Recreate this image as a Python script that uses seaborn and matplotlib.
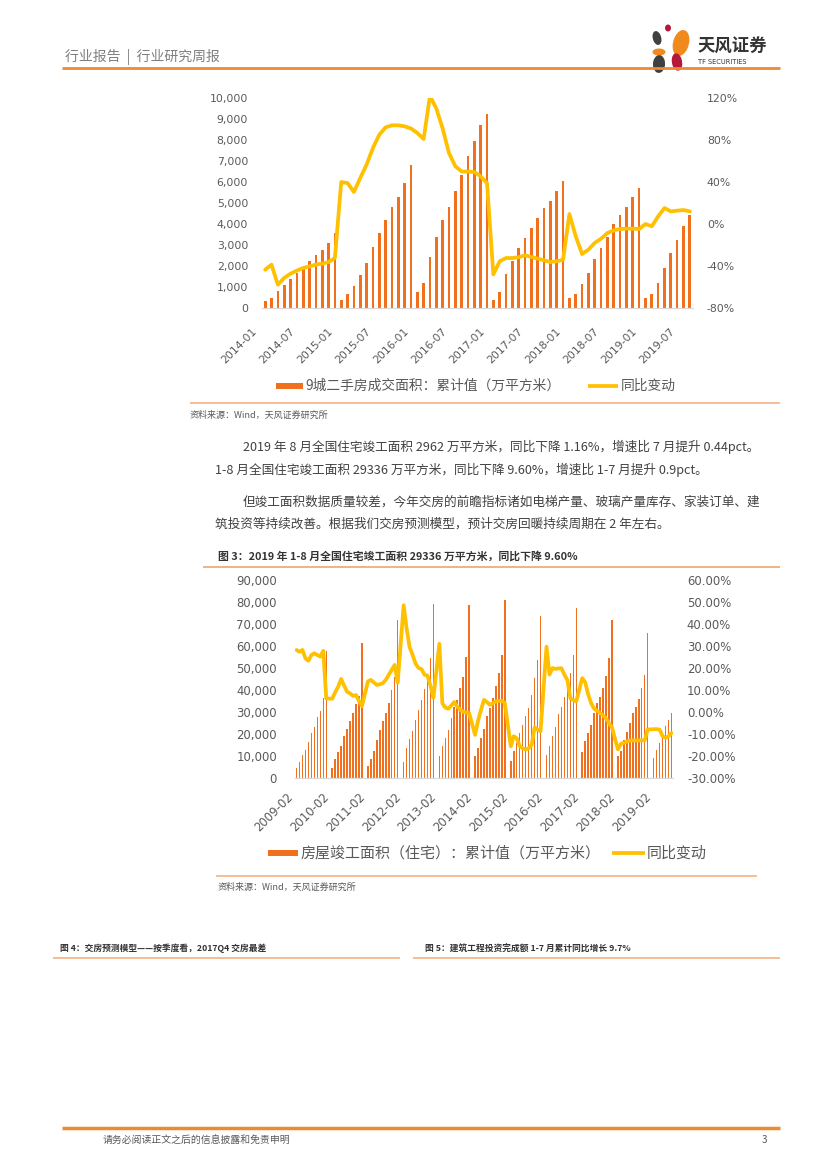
import matplotlib
matplotlib.use('Agg')
import matplotlib.pyplot as plt
import matplotlib.transforms as mtransforms
from matplotlib.lines import Line2D
from matplotlib.patches import Rectangle, Ellipse
from matplotlib.ticker import FuncFormatter
import numpy as np
import seaborn as sns

W, H = 827, 1169

# ---- chart 1: 9 city second-hand housing deals, 2014-01 .. 2019-08
years1 = [2014, 2015, 2016, 2017, 2018, 2019]
area1 = [320, 500, 830, 1110, 1400, 1650, 1940, 2220, 2510, 2780, 3100, 3590,
         400, 670, 1030, 1590, 2160, 2890, 3590, 4210, 4810, 5300, 5970, 6790,
         750, 1210, 2410, 3370, 4170, 4830, 5560, 6350, 7220, 7970, 8730, 9240,
         400, 760, 1630, 2220, 2870, 3350, 3830, 4300, 4780, 5110, 5590, 6050,
         460, 680, 1160, 1670, 2350, 2870, 3400, 4000, 4440, 4830, 5270, 5730,
         460, 680, 1210, 1920, 2620, 3250, 3920, 4440]
yoy1 = [-43.5, -38.7, -57.8, -51.4, -47.3, -44.4, -41.9, -40.3, -38.7, -37.8, -36.2, -32.4,
        40, 39, 30.5, 43.8, 56.5, 72.4, 85, 92, 94, 94, 93, 91,
        86.7, 81, 122, 110, 91, 67.6, 55, 50, 50, 49.5, 45.4, 39,
        -48, -35.5, -32.4, -32.4, -31.7, -29.8, -31.4, -33, -34.6, -36.2, -35.5, -34,
        9.5, -11.7, -28.6, -24.4, -18, -14, -8.6, -6, -4.8, -4.4, -4.4, -4.8,
        0, -2.2, 7.3, 15.2, 12, 12.7, 13.3, 12]
months1 = ['%d-%02d' % (y, m) for y in years1 for m in range(1, 13)][:len(area1)]

# ---- chart 2: residential completions (Jan merged into Feb), 2009-02 .. 2019-08
years2 = list(range(2009, 2020))
area2 = [4400, 7400, 10450, 12700, 16500, 20300, 23300, 27600, 30600, 36200, 57700,
         4500, 8600, 11600, 14400, 19200, 22200, 25700, 29500, 33700, 37500, 61200,
         5300, 8600, 12100, 17400, 21900, 25700, 29500, 34000, 40100, 46000, 71700,
         7400, 13500, 17600, 21400, 26400, 30900, 35400, 40300, 44500, 54400, 79000,
         9800, 14400, 18150, 21900, 27200, 32500, 35500, 40800, 45800, 54900, 78700,
         9800, 13600, 18200, 22500, 28000, 32000, 36500, 42000, 47500, 56000, 80900,
         7600, 12100, 15900, 20400, 24200, 28000, 31800, 37800, 45400, 53700, 73800,
         10600, 14400, 18900, 23400, 29200, 32500, 37000, 40800, 47600, 56000, 77200,
         11600, 16600, 20400, 24200, 29500, 34000, 37000, 40800, 46400, 54400, 71800,
         9800, 12100, 17400, 20900, 25000, 29500, 32500, 36000, 40800, 46900, 66000,
         9100, 12900, 15900, 21000, 23500, 26300, 29336]
yoy2 = [28.2, 27.4, 28.2, 24.4, 23.3, 25.9, 26.7, 25.9, 25.2, 27.8, 6.2,
        6.0, 9.0, 11.5, 15.0, 12.0, 9.2, 8.5, 7.3, 7.7, 5.0, 2.7,
        13.9, 14.6, 13.4, 12.3, 12.6, 13.1, 14.6, 16.9, 19.2, 21.4, 13.3,
        48.5, 38, 29.5, 26, 22, 20, 19.5, 17, 16.5, 12, 6.5,
        31, 4, 2, 1.5, 3, 4.5, 2.5, 1, 0.2, -0.3, -0.4,
        -10.4, -4, 1, 5.5, 4.5, 3.3, 4, 4.8, 5, 5.1, 4,
        -15.6, -11, -12, -15.5, -16.5, -17, -16.5, -15, -7, -8, -8.8,
        29.7, 17, 20, 19.6, 19.8, 19.9, 17, 14.6, 6.3, 5.5, 4.8,
        15.4, 13.5, 8, 4, 1.5, 0.5, -0.5, -1.5, -3, -5, -7,
        -17, -14.5, -14, -13.4, -13, -12.9, -12.9, -12.9, -12.9, -12.9, -8,
        -7.8, -7.8, -8, -11, -11.8, -11, -9.6]
slots2 = ['%d-%02d' % (y, m) for y in years2 for m in range(1, 13)][1:128]
months2 = [s for s in slots2 if not s.endswith('-01')]

BAR = '#F0701E'
LINE = '#FFC000'
GREY = '#595959'
ORANGE = '#EE8A2E'
LIGHT = '#F4B183'

sns.set_theme(style='white')
plt.rcParams['font.family'] = ['Noto Sans CJK SC', 'DejaVu Sans']

fig = plt.figure(figsize=(W / 100, H / 100), dpi=100)


def px_axes(l, t, r, b):
    return fig.add_axes([l / W, 1 - b / H, (r - l) / W, (b - t) / H])


def ftext(x, y, s, **kw):
    kw.setdefault('va', 'center')
    fig.text(x / W, 1 - y / H, s, **kw)


def hline(x0, x1, y, color, lw):
    fig.add_artist(Line2D([x0 / W, x1 / W], [1 - y / H] * 2, transform=fig.transFigure,
                          color=color, lw=lw, solid_capstyle='butt'))


def style_axes(ax, axr, fs, lpad, rpad):
    for a in (ax, axr):
        for s in a.spines.values():
            s.set_visible(False)
        a.grid(False)
        a.set_xlabel('')
        a.set_ylabel('')
    ax.spines['bottom'].set_visible(True)
    ax.spines['bottom'].set_color('#D9D9D9')
    ax.spines['bottom'].set_linewidth(0.9)
    ax.tick_params(axis='y', length=0, pad=lpad, labelsize=fs, labelcolor=GREY)
    axr.tick_params(axis='y', length=0, pad=rpad, labelsize=fs, labelcolor=GREY)
    ax.tick_params(axis='x', length=0, pad=0, labelsize=fs, labelcolor=GREY)
    for lab in ax.get_yticklabels() + axr.get_yticklabels() + ax.get_xticklabels():
        lab.set_family('DejaVu Sans')


def shift_xlabels(ax, dx, dy):
    off = mtransforms.ScaledTranslation(dx / 100, -dy / 100, fig.dpi_scale_trans)
    for lab in ax.get_xticklabels():
        lab.set_rotation(45)
        lab.set_ha('right')
        lab.set_va('center')
        lab.set_rotation_mode('anchor')
        lab.set_transform(lab.get_transform() + off)


# ---------------- header / logo ----------------
ftext(65, 57, '行业报告  |  行业研究周报', fontsize=10, color='#7F7F7F')
hline(62, 780, 68, ORANGE, 2.0)
for (cx, cy, w, h, ang, col) in [(668, 28, 6, 7, 0, '#B5183A'),
                                 (657, 38, 8, 15, 35, '#404040'),
                                 (681, 43, 15, 28, -35, '#F08A1C'),
                                 (659, 52, 13, 7, 0, '#F08A1C'),
                                 (677, 62, 10, 18, 25, '#B5183A'),
                                 (659, 64, 12, 18, -20, '#404040')]:
    fig.add_artist(Ellipse((cx / W, 1 - cy / H), w / W, h / H, angle=ang,
                           transform=fig.transFigure, color=col, lw=0))
ftext(697, 47, '天风证券', fontsize=12.5, color='#333333', fontweight='bold')
ftext(698, 62, 'TF SECURITIES', fontsize=4.8, color='#333333', family='DejaVu Sans')

# ---------------- chart 1 ----------------
ax1 = px_axes(262, 98, 693, 308)
sns.barplot(x=months1, y=area1, ax=ax1, color=BAR, saturation=1, width=0.42, linewidth=0)
ax1.set_ylim(0, 10000)
ax1.set_yticks(range(0, 10001, 1000))
ax1.yaxis.set_major_formatter(FuncFormatter(lambda v, p: f'{v:,.0f}'))
ax1r = ax1.twinx()
sns.lineplot(x=np.arange(len(yoy1)), y=yoy1, ax=ax1r, color=LINE, linewidth=2.7)
ax1r.set_ylim(-80, 120)
ax1r.set_yticks(range(-80, 121, 40))
ax1r.yaxis.set_major_formatter(FuncFormatter(lambda v, p: f'{v:.0f}%'))
ax1.set_xlim(-0.5, len(area1) - 0.5)
ax1.set_xticks(range(0, len(months1), 6), months1[::6])
style_axes(ax1, ax1r, 7.8, 10, 10)
shift_xlabels(ax1, -10, 22)

fig.add_artist(Rectangle((276 / W, 1 - 389 / H), 27 / W, 6 / H, transform=fig.transFigure,
                         color=BAR, lw=0))
ftext(305, 386, '9城二手房成交面积：累计值（万平方米）', fontsize=9.9, color=GREY)
hline(588, 618, 386, LINE, 2.7)
ftext(621, 386, '同比变动', fontsize=9.9, color=GREY)
hline(190, 780, 403, LIGHT, 1.2)
ftext(190, 415, '资料来源：Wind，天风证券研究所', fontsize=6.5, color=GREY)

# ---------------- body text ----------------
body = '#404040'
ftext(243, 447, '2019 年 8 月全国住宅竣工面积 2962 万平方米，同比下降 1.16%，增速比 7 月提升 0.44pct。',
      fontsize=9.1, color=body)
ftext(215, 470, '1-8 月全国住宅竣工面积 29336 万平方米，同比下降 9.60%，增速比 1-7 月提升 0.9pct。',
      fontsize=9.1, color=body)
ftext(243, 502, '但竣工面积数据质量较差，今年交房的前瞻指标诸如电梯产量、玻璃产量库存、家装订单、建',
      fontsize=9.1, color=body)
ftext(215, 524, '筑投资等持续改善。根据我们交房预测模型，预计交房回暖持续周期在 2 年左右。',
      fontsize=9.1, color=body)

ftext(218, 556, '图 3：2019 年 1-8 月全国住宅竣工面积 29336 万平方米，同比下降 9.60%',
      fontsize=7.85, color='#333333', fontweight='bold')
hline(203, 780, 567, LIGHT, 1.4)

# ---------------- chart 2 ----------------
ax2 = px_axes(295, 580, 673, 778)
sns.barplot(x=months2, y=area2, order=slots2, ax=ax2, color=BAR, saturation=1,
            width=0.5, linewidth=0)
ax2.set_ylim(0, 90000)
ax2.set_yticks(range(0, 90001, 10000))
ax2.yaxis.set_major_formatter(FuncFormatter(lambda v, p: f'{v:,.0f}'))
ax2r = ax2.twinx()
pos2 = [slots2.index(m) for m in months2]
sns.lineplot(x=pos2, y=yoy2, ax=ax2r, color=LINE, linewidth=2.7)
ax2r.set_ylim(-30, 60)
ax2r.set_yticks(range(-30, 61, 10))
ax2r.yaxis.set_major_formatter(FuncFormatter(lambda v, p: f'{v:.2f}%'))
ax2.set_xlim(-0.5, len(slots2) - 0.5)
ax2.set_xticks(range(0, len(slots2), 12), slots2[::12])
style_axes(ax2, ax2r, 8.4, 13, 10)
shift_xlabels(ax2, -5, 17)

fig.add_artist(Rectangle((268 / W, 1 - 856 / H), 30 / W, 6 / H, transform=fig.transFigure,
                         color=BAR, lw=0))
ftext(300, 853, '房屋竣工面积（住宅）：累计值（万平方米）', fontsize=10.8, color=GREY)
hline(612, 645, 853, LINE, 2.7)
ftext(647, 853, '同比变动', fontsize=10.8, color=GREY)
hline(216, 757, 876, LIGHT, 1.2)
ftext(218, 887, '资料来源：Wind，天风证券研究所', fontsize=6.5, color=GREY)

# ---------------- next figure titles ----------------
ftext(60, 948, '图 4：交房预测模型——按季度看，2017Q4 交房最差', fontsize=6.3,
      color='#333333', fontweight='bold')
ftext(425, 948, '图 5：建筑工程投资完成额 1-7 月累计同比增长 9.7%', fontsize=6.3,
      color='#333333', fontweight='bold')
hline(53, 400, 958, LIGHT, 1.2)
hline(413, 780, 958, LIGHT, 1.2)

# ---------------- footer ----------------
hline(62, 780, 1128, ORANGE, 2.5)
ftext(103, 1140, '请务必阅读正文之后的信息披露和免责申明', fontsize=7.1, color=GREY)
ftext(762, 1140, '3', fontsize=7.1, color=GREY)

fig.savefig('out.png', dpi=100)
